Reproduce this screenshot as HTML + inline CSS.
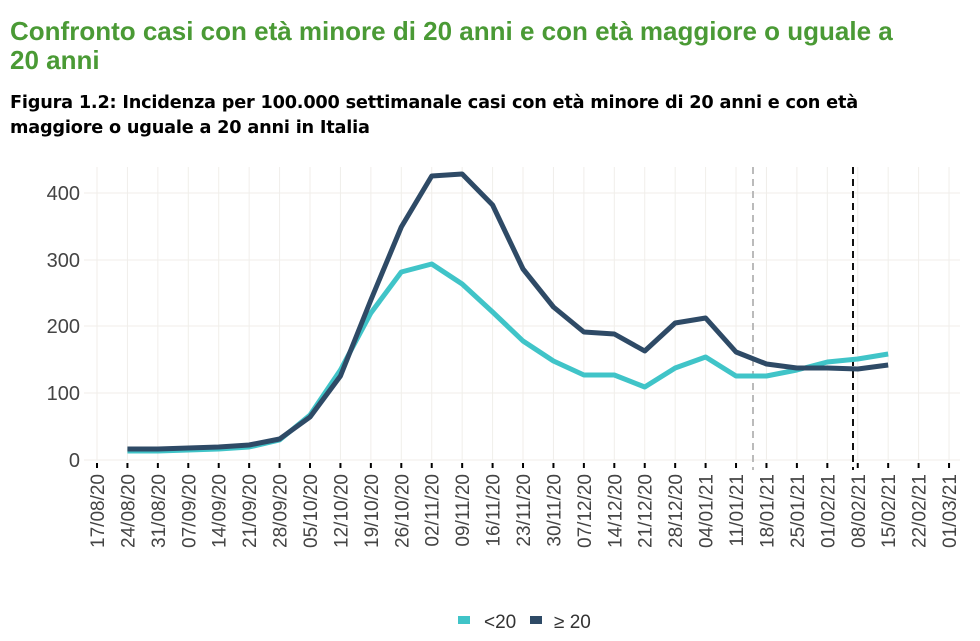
<!DOCTYPE html>
<html><head><meta charset="utf-8"><style>
body{margin:0;background:#fff;width:980px;height:641px;overflow:hidden;font-family:"Liberation Sans",sans-serif}
.t1{position:absolute;left:10px;top:17px;color:#4a9a35;font-size:26px;font-weight:bold;line-height:29px;width:900px}
.t2{position:absolute;left:10px;top:91px;color:#000;font-size:17.7px;font-weight:bold;line-height:25px;font-family:"DejaVu Sans",sans-serif;letter-spacing:-0.2px}
</style></head><body>
<div class="t1">Confronto casi con età minore di 20 anni e con età maggiore o uguale a<br>20 anni</div>
<div class="t2">Figura 1.2: Incidenza per 100.000 settimanale casi con età minore di 20 anni e con età<br>maggiore o uguale a 20 anni in Italia</div>
<svg width="980" height="641" style="position:absolute;left:0;top:0" font-family="Liberation Sans, sans-serif">
<g stroke="#f0eeea" stroke-width="1">
<line x1="84" x2="960" y1="460" y2="460"/><line x1="84" x2="960" y1="393" y2="393"/><line x1="84" x2="960" y1="326" y2="326"/><line x1="84" x2="960" y1="260" y2="260"/><line x1="84" x2="960" y1="193" y2="193"/>
<g id="vg"></g>
</g>
<g id="ticks" stroke="#000" stroke-width="2"></g>
<g font-size="20" fill="#444" text-anchor="end">
<text x="80" y="467">0</text><text x="80" y="400">100</text><text x="80" y="333">200</text><text x="80" y="267">300</text><text x="80" y="200">400</text>
</g>
<g id="xl" font-size="19" fill="#444" text-anchor="end"></g>
<line x1="753" x2="753" y1="167" y2="470" stroke="#bbb" stroke-width="2" stroke-dasharray="7,5"/>
<line x1="853" x2="853" y1="167" y2="470" stroke="#111" stroke-width="2" stroke-dasharray="7,5"/>
<polyline id="lt" fill="none" stroke="#40c4c8" stroke-width="5" stroke-linejoin="round"/>
<polyline id="dk" fill="none" stroke="#2e4a66" stroke-width="5" stroke-linejoin="round"/>
<rect x="458" y="616" width="12" height="8" fill="#40c4c8"/><text x="484" y="628" font-size="19" fill="#333">&lt;20</text>
<rect x="530" y="616" width="12" height="8" fill="#2e4a66"/><text x="554" y="628" font-size="19" fill="#333">≥ 20</text>
</svg>
<script>
var labs=["17/08/20","24/08/20","31/08/20","07/09/20","14/09/20","21/09/20","28/09/20","05/10/20","12/10/20","19/10/20","26/10/20","02/11/20","09/11/20","16/11/20","23/11/20","30/11/20","07/12/20","14/12/20","21/12/20","28/12/20","04/01/21","11/01/21","18/01/21","25/01/21","01/02/21","08/02/21","15/02/21","22/02/21","01/03/21"];
var ns="http://www.w3.org/2000/svg",vg=document.getElementById("vg"),tk=document.getElementById("ticks"),xl=document.getElementById("xl");
function X(i){return 97+i*30.43}
labs.forEach(function(l,i){var x=X(i);
var g=document.createElementNS(ns,"line");g.setAttribute("x1",x);g.setAttribute("x2",x);g.setAttribute("y1",167);g.setAttribute("y2",460);vg.appendChild(g);
var t=document.createElementNS(ns,"line");t.setAttribute("x1",x);t.setAttribute("x2",x);t.setAttribute("y1",463);t.setAttribute("y2",468);tk.appendChild(t);
var s=document.createElementNS(ns,"text");s.setAttribute("transform","translate("+(x+7)+",474) rotate(-90)");s.textContent=l;xl.appendChild(s);});
var dk=[449,449,448,447,445,439,417,376,300,227,176,174,205,269,307,332,334,351,323,318,352,364,368,368,369,365];
var lt=[451,451,450,449,447,440,415,370,313,272,264,284,312,341,361,375,375,387,368,357,376,376,370,362,359,354];
function pts(a){return a.map(function(y,i){return X(i+1)+","+y}).join(" ")}
document.getElementById("dk").setAttribute("points",pts(dk));
document.getElementById("lt").setAttribute("points",pts(lt));
</script>
</body></html>
